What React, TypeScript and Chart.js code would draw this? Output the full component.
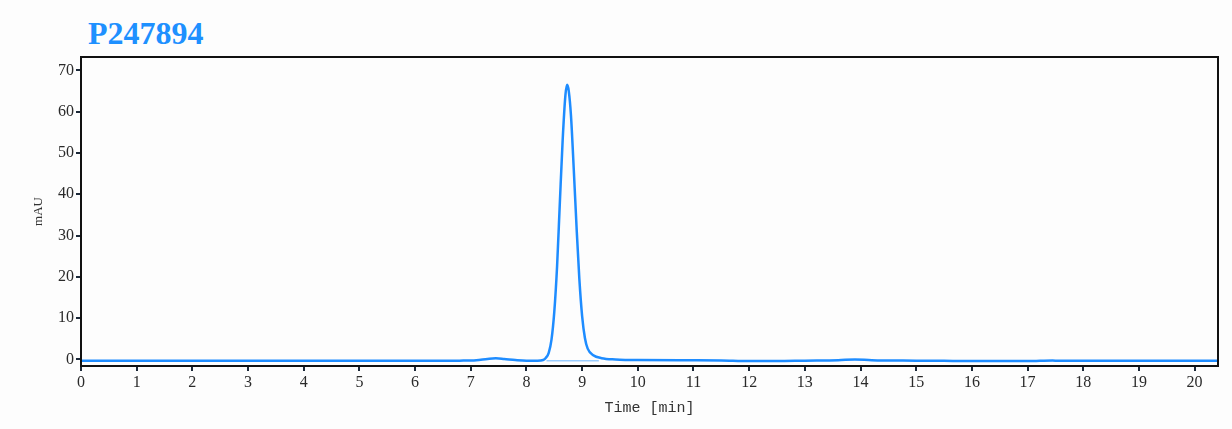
import React, { useEffect, useRef } from 'react';
import { Chart, registerables } from 'chart.js';

Chart.register(...registerables);

const sampleName = 'P247894';
const times = [
    0, 1, 2, 3, 4, 5, 6, 6.8, 7.1, 7.3, 7.45, 7.6, 7.8, 8.0, 8.2, 8.3, 8.35, 8.4, 8.45, 8.5,
    8.55, 8.6, 8.65, 8.7, 8.73, 8.76, 8.8, 8.85, 8.9, 8.95, 9.0, 9.05, 9.1, 9.2, 9.35, 9.6,
    10.0, 11.0, 11.5, 12.0, 12.5, 13.0, 13.6, 13.9, 14.2, 15.0, 15.5, 16.0, 17.0, 17.45, 17.55,
    18.0, 19.0, 20.0, 20.42,
];
const absorbance = [
    -0.35, -0.35, -0.35, -0.35, -0.35, -0.35, -0.35, -0.3, -0.2, 0.1, 0.25, 0.1, -0.15, -0.3, -0.3, -0.15, 0.4, 1.6, 4.8, 11.5,
    22.5, 38, 53, 64, 66.5, 65, 59, 46, 32, 19.5, 10.5, 5.2, 2.6, 1.0, 0.3, 0.0,
    -0.15, -0.2, -0.25, -0.4, -0.4, -0.3, -0.2, 0.0, -0.2, -0.3, -0.35, -0.4, -0.4, -0.25, -0.35,
    -0.35, -0.35, -0.35, -0.35,
];
const baselineTimes = [8.36, 9.3];
const baselineValues = [-0.35, -0.35];
const xTicks = Array.from({ length: 21 }, (_, i) => i);
const yTicks = [0, 10, 20, 30, 40, 50, 60, 70];

const frameBox = {
    id: 'frameBox',
    afterDraw(chart: Chart) {
        const { ctx, chartArea } = chart;
        ctx.save();
        ctx.strokeStyle = '#111';
        ctx.lineWidth = 2;
        ctx.strokeRect(chartArea.left, chartArea.top, chartArea.right - chartArea.left, chartArea.bottom - chartArea.top);
        ctx.restore();
    },
};

const App: React.FC = () => {
    const canvasRef = useRef<HTMLCanvasElement>(null);
    const chartInstance = useRef<Chart | null>(null);

    useEffect(() => {
        if (!canvasRef.current) return;
        if (chartInstance.current) chartInstance.current.destroy();

        const tickFont = { family: '"Liberation Serif", "Times New Roman", serif', size: 16 };

        chartInstance.current = new Chart(canvasRef.current, {
            type: 'line',
            data: {
                datasets: [
                    {
                        label: 'baseline',
                        data: baselineTimes.map((t, i) => ({ x: t, y: baselineValues[i] })),
                        borderColor: 'rgba(30,144,255,0.45)',
                        borderWidth: 1.5,
                        pointRadius: 0,
                    },
                    {
                        label: sampleName,
                        data: times.map((t, i) => ({ x: t, y: absorbance[i] })),
                        borderColor: '#1e8cff',
                        borderWidth: 2.5,
                        pointRadius: 0,
                        cubicInterpolationMode: 'monotone',
                    },
                ],
            },
            options: {
                animation: false,
                responsive: true,
                maintainAspectRatio: false,
                layout: { padding: { left: 0, right: 14, top: 57, bottom: 0 } },
                plugins: { legend: { display: false }, tooltip: { enabled: false } },
                scales: {
                    x: {
                        type: 'linear',
                        min: 0,
                        max: 20.42,
                        afterBuildTicks: (scale: any) => {
                            scale.ticks = xTicks.map(v => ({ value: v }));
                        },
                        afterFit: (scale: any) => {
                            scale.height = 63;
                        },
                        grid: { drawOnChartArea: false, drawTicks: true, tickLength: 5, color: '#1b2838', lineWidth: 2 },
                        border: { display: true, color: '#111', width: 2 },
                        ticks: { color: '#2a2a2a', font: tickFont, padding: 2, maxRotation: 0, autoSkip: false },
                        title: {
                            display: true,
                            text: 'Time [min]',
                            color: '#333',
                            font: { family: '"Liberation Mono", "DejaVu Sans Mono", monospace', size: 15 },
                            padding: { top: 2, bottom: 12 },
                        },
                    },
                    y: {
                        type: 'linear',
                        min: -1.6,
                        max: 73.25,
                        afterBuildTicks: (scale: any) => {
                            scale.ticks = yTicks.map(v => ({ value: v }));
                        },
                        afterFit: (scale: any) => {
                            scale.width = 81;
                        },
                        grid: { drawOnChartArea: false, drawTicks: true, tickLength: 5, color: '#1b2838', lineWidth: 2 },
                        border: { display: true, color: '#111', width: 2 },
                        ticks: { color: '#2a2a2a', font: tickFont, padding: 2 },
                        title: {
                            display: true,
                            text: 'mAU',
                            color: '#333',
                            font: { family: '"Liberation Serif", "Times New Roman", serif', size: 13 },
                            padding: { top: 31, bottom: 10 },
                        },
                    },
                },
            },
            plugins: [frameBox],
        });

        return () => {
            chartInstance.current?.destroy();
            chartInstance.current = null;
        };
    }, []);

    return (
        <div style={{ position: 'absolute', left: 0, top: 0, width: 1232, height: 429, background: '#fdfdfd' }}>
            <div
                style={{
                    position: 'absolute',
                    left: 88,
                    top: 13,
                    fontFamily: '"Liberation Serif", "Times New Roman", serif',
                    fontWeight: 'bold',
                    fontSize: 32,
                    lineHeight: '40px',
                    color: '#1e90ff',
                }}
            >
                {sampleName}
            </div>
            <div style={{ position: 'absolute', left: 0, top: 0, width: 1232, height: 429 }}>
                <canvas ref={canvasRef}></canvas>
            </div>
        </div>
    );
};

export default App;
